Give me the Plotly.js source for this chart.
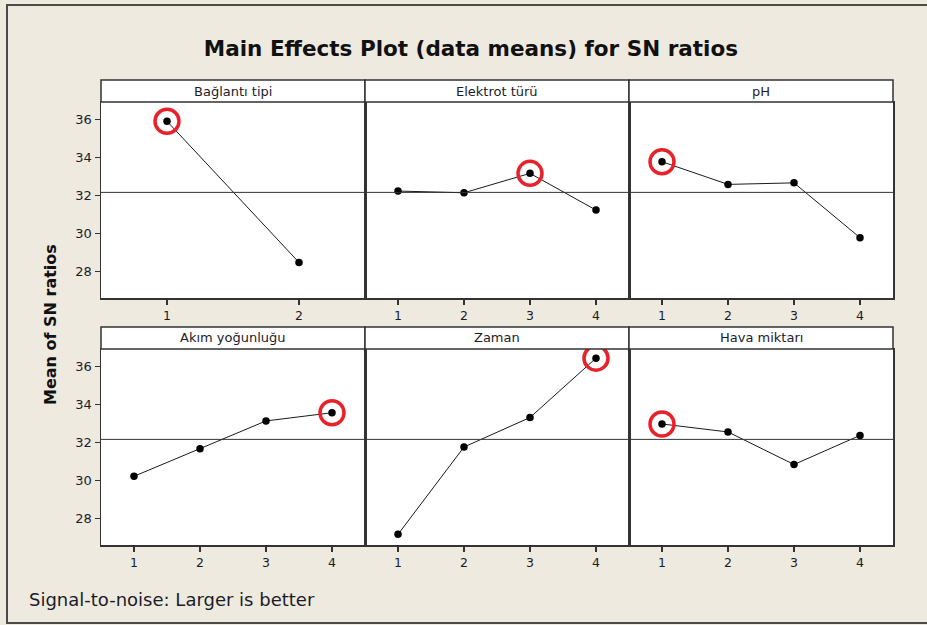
<!DOCTYPE html>
<html>
<head>
<meta charset="utf-8">
<script src="https://cdn.plot.ly/plotly-3.0.1.min.js"></script>
<style>html,body{margin:0;padding:0;background:#eeeae0;}#chart{width:927px;height:625px;}</style>
</head>
<body>
<div id="chart"></div>
<script>
// ---- data ----
const factors = ['Bağlantı tipi', 'Elektrot türü', 'pH', 'Akım yoğunluğu', 'Zaman', 'Hava miktarı'];
const levels2 = [1, 2];
const levels4 = [1, 2, 3, 4];
const baglantiTipi = [35.91, 28.49];
const elektrotTuru = [32.24, 32.15, 33.17, 31.24];
const pH = [33.78, 32.59, 32.67, 29.79];
const akimYogunlugu = [30.23, 31.68, 33.14, 33.57];
const zaman = [27.18, 31.77, 33.32, 36.44];
const havaMiktari = [32.98, 32.56, 30.85, 32.38];
const bestLevel = [1, 3, 1, 4, 4, 1];
const grandMean = [32.17];
const yTicks = [28, 30, 32, 34, 36];

const series = [baglantiTipi, elektrotTuru, pH, akimYogunlugu, zaman, havaMiktari];
const levelSets = [levels2, levels4, levels4, levels4, levels4, levels4];

// ---- layout geometry (pixels -> paper) ----
const W = 927, H = 625;
const colPx = [[101, 365], [365, 629], [629, 893]];
const rowPx = [[102, 298], [349, 545]]; // top,bottom of plot areas
const stripH = 22;
const px = v => v / W;
const py = v => (H - v) / H;

const FONT = 'DejaVu Sans, Verdana, sans-serif';
const TXT = '#1c1c28';

const traces = [];
const layout = {
  width: W, height: H,
  margin: {l: 0, r: 0, t: 0, b: 0},
  paper_bgcolor: '#eeeae0',
  plot_bgcolor: '#ffffff',
  showlegend: false,
  font: {family: FONT, color: TXT, size: 12},
  title: {
    text: '<b>Main Effects Plot (data means) for SN ratios</b>',
    x: 0.508, xanchor: 'center', y: py(48), yanchor: 'middle',
    font: {family: FONT, size: 21.5, color: '#111'}
  },
  shapes: [], annotations: []
};

for (let i = 0; i < 6; i++) {
  const r = Math.floor(i / 3), c = i % 3;
  const k = i === 0 ? '' : String(i + 1);
  const xa = 'x' + k, ya = 'y' + k;
  const xs = levelSets[i], ys = series[i];

  traces.push({
    x: xs, y: ys, xaxis: xa, yaxis: ya, type: 'scatter', mode: 'lines+markers',
    line: {color: '#1a1a1a', width: 1},
    marker: {color: '#000', size: 7.5},
    hoverinfo: 'x+y'
  });
  const b = bestLevel[i];
  traces.push({
    x: [xs[b - 1]], y: [ys[b - 1]], xaxis: xa, yaxis: ya, type: 'scatter', mode: 'markers',
    marker: {symbol: 'circle-open', size: 24, color: '#e8222b', line: {width: 3.5, color: '#e8222b'}},
    hoverinfo: 'skip'
  });

  const xdom = [px(colPx[c][0]), px(colPx[c][1])];
  const ydom = [py(rowPx[r][1]), py(rowPx[r][0])];
  layout['xaxis' + k] = {
    domain: xdom, anchor: ya, range: [0.5, xs.length + 0.5],
    tickvals: xs, ticktext: xs.map(String), ticks: 'outside', ticklen: 5, tickwidth: 1.5, tickcolor: '#333',
    showline: true, mirror: true, linecolor: '#333', linewidth: 1.5,
    showgrid: false, zeroline: false, fixedrange: true,
    tickfont: {family: FONT, size: 12.5, color: TXT}
  };
  layout['yaxis' + k] = {
    domain: ydom, anchor: xa, range: [26.62, 36.92],
    tickvals: yTicks, ticks: c === 0 ? 'outside' : '', ticklen: 5, tickwidth: 1.5, tickcolor: '#333',
    showticklabels: c === 0,
    showline: true, mirror: true, linecolor: '#333', linewidth: 1.5,
    showgrid: false, zeroline: false, fixedrange: true,
    tickfont: {family: FONT, size: 13, color: TXT}
  };
  // reference line at grand mean
  layout.shapes.push({
    type: 'line', xref: xa + ' domain', yref: ya, x0: 0, x1: 1, y0: grandMean[0], y1: grandMean[0],
    line: {color: '#333', width: 1}
  });
  // strip header
  layout.shapes.push({
    type: 'rect', xref: 'paper', yref: 'paper',
    x0: xdom[0], x1: xdom[1], y0: ydom[1], y1: ydom[1] + stripH / H,
    fillcolor: '#ffffff', line: {color: '#333', width: 1.5}
  });
  layout.annotations.push({
    text: factors[i], xref: 'paper', yref: 'paper', x: (xdom[0] + xdom[1]) / 2, y: ydom[1] + stripH / 2 / H,
    xanchor: 'center', yanchor: 'middle', showarrow: false, font: {family: FONT, size: 13, color: TXT}
  });
}

// outer frame
layout.shapes.push({
  type: 'rect', xref: 'paper', yref: 'paper', x0: px(7), x1: px(940), y0: py(623), y1: py(5),
  line: {color: '#4a4a4a', width: 2}, fillcolor: 'rgba(0,0,0,0)', layer: 'below'
});

layout.annotations.push({
  text: '<b>Mean of SN ratios</b>', xref: 'paper', yref: 'paper', x: px(50), y: py(325),
  xanchor: 'center', yanchor: 'middle', textangle: -90, showarrow: false,
  font: {family: FONT, size: 16, color: '#111'}
});
layout.annotations.push({
  text: 'Signal-to-noise: Larger is better', xref: 'paper', yref: 'paper', x: px(27), y: py(599),
  xanchor: 'left', yanchor: 'middle', showarrow: false,
  font: {family: FONT, size: 18, color: TXT}
});

Plotly.newPlot('chart', traces, layout, {displayModeBar: false, staticPlot: true});
</script>
</body>
</html>
